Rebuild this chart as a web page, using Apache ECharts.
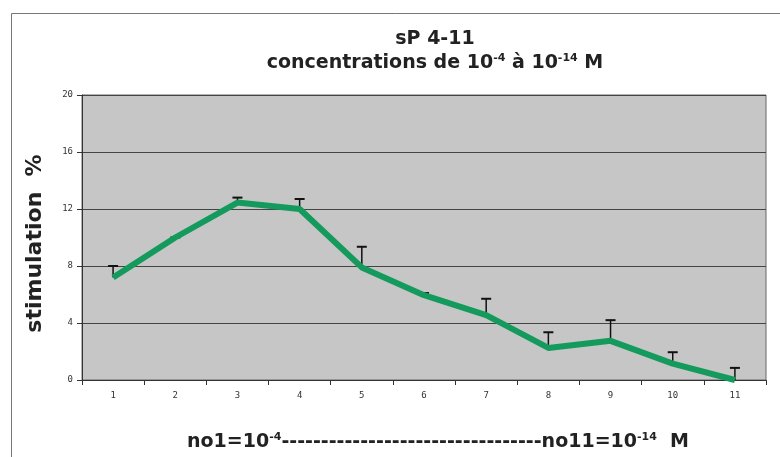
<!DOCTYPE html>
<html>
<head>
<meta charset="utf-8">
<script src="https://cdn.jsdelivr.net/npm/echarts@6/dist/echarts.min.js"></script>
<style>
    html, body { margin: 0; padding: 0; background: #fff; }
    #chart { width: 780px; height: 457px; }
</style>
</head>
<body>
<div id="chart"></div>
<script>
    // données
    const categories = ['1', '2', '3', '4', '5', '6', '7', '8', '9', '10', '11'];
    const stimulation = [7.2, 10.0, 12.45, 12.0, 7.9, 5.95, 4.55, 2.25, 2.75, 1.15, 0];
    const errorTop = [8.0, 10.0, 12.8, 12.7, 9.35, 6.1, 5.7, 3.35, 4.2, 1.95, 0.85];
    const yTicks = [0, 4, 8, 12, 16, 20];

    const font = 'Verdana, "DejaVu Sans", sans-serif';
    const errData = categories.map((c, i) => [i, stimulation[i], errorTop[i]]);
    const dashes = '-'.repeat(33);

    const chart = echarts.init(document.getElementById('chart'));
    chart.setOption({
        backgroundColor: '#fff',
        animation: false,
        title: {
            text: '{t|sP 4-11}\n{a|concentrations de 10}{s|-4}{a| à 10}{s|-14}{a| M}',
            left: 430,
            textAlign: 'center',
            top: 22,
            textStyle: {
                rich: {
                    t: { fontFamily: font, fontWeight: 'bold', fontSize: 19, color: '#222', lineHeight: 24 },
                    a: { fontFamily: font, fontWeight: 'bold', fontSize: 19, color: '#222', lineHeight: 24 },
                    s: { fontFamily: font, fontWeight: 'bold', fontSize: 11, color: '#222', lineHeight: 24, padding: [0, 0, 10, 0] }
                }
            }
        },
        graphic: [
            {
                type: 'polyline',
                shape: { points: [[11.5, 457], [11.5, 13.5], [780, 13.5]] },
                style: { fill: 'none', stroke: '#777', lineWidth: 1 }
            }
        ],
        grid: {
            left: 82,
            right: 14,
            top: 95,
            bottom: 76,
            show: true,
            backgroundColor: '#c6c6c6',
            borderColor: '#666',
            borderWidth: 1
        },
        xAxis: {
            type: 'category',
            data: categories,
            boundaryGap: true,
            name: '{a|no1=10}{s|-4}{a|' + dashes + 'no11=10}{s|-14}{a|  M}',
            nameLocation: 'middle',
            nameGap: 52,
            nameTextStyle: {
                padding: [0, 0, 0, 28],
                rich: {
                    a: { fontFamily: font, fontWeight: 'bold', fontSize: 19, color: '#222' },
                    s: { fontFamily: font, fontWeight: 'bold', fontSize: 11, color: '#222', padding: [0, 0, 10, 0] }
                }
            },
            axisLine: { lineStyle: { color: '#333', width: 1 } },
            axisTick: { show: true, alignWithLabel: false, length: 5, lineStyle: { color: '#333' } },
            axisLabel: { fontFamily: '"DejaVu Sans Mono", monospace', fontSize: 9, color: '#333', margin: 11 },
            splitLine: { show: false }
        },
        yAxis: {
            type: 'value',
            min: 0,
            max: 20,
            interval: 4,
            name: 'stimulation  %',
            nameLocation: 'middle',
            nameRotate: 90,
            nameGap: 36,
            nameTextStyle: { fontFamily: font, fontWeight: 'bold', fontSize: 22, color: '#222', padding: [0, 12, 0, 0] },
            axisLine: { show: true, lineStyle: { color: '#333' } },
            axisTick: { show: true, length: 5, lineStyle: { color: '#333' } },
            axisLabel: {
                fontFamily: '"DejaVu Sans Mono", monospace',
                fontSize: 9,
                color: '#333',
                margin: 9,
                formatter: v => yTicks.includes(v) ? String(v) : ''
            },
            splitLine: { show: true, lineStyle: { color: '#444', width: 1 } }
        },
        series: [
            {
                type: 'custom',
                name: 'erreur',
                z: 1,
                data: errData,
                renderItem: (params, api) => {
                    const p0 = api.coord([api.value(0), api.value(1)]);
                    const p1 = api.coord([api.value(0), api.value(2)]);
                    return {
                        type: 'group',
                        children: [
                            { type: 'line', shape: { x1: p0[0], y1: p0[1], x2: p1[0], y2: p1[1] }, style: { stroke: '#111', lineWidth: 1.5 } },
                            { type: 'line', shape: { x1: p1[0] - 5, y1: p1[1], x2: p1[0] + 5, y2: p1[1] }, style: { stroke: '#111', lineWidth: 2 } }
                        ]
                    };
                }
            },
            {
                type: 'line',
                name: 'stimulation',
                z: 3,
                data: stimulation,
                symbol: 'none',
                lineStyle: { color: '#139a5c', width: 6 }
            }
        ]
    });
</script>
</body>
</html>
